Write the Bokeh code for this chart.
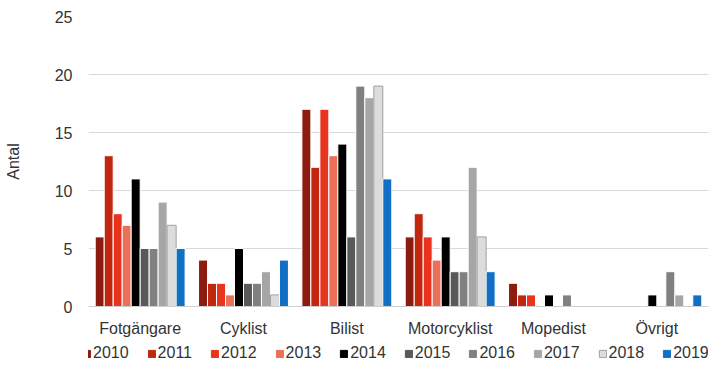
from bokeh.plotting import figure
from bokeh.layouts import column
from bokeh.models import ColumnDataSource, FactorRange, Legend, LegendItem
from bokeh.transform import dodge
from bokeh.embed import file_html
from bokeh.resources import INLINE

categories = ["Fotgängare", "Cyklist", "Bilist", "Motorcyklist", "Mopedist", "Övrigt"]
years = ["2010", "2011", "2012", "2013", "2014", "2015", "2016", "2017", "2018", "2019"]
v2010 = [6, 4, 17, 6, 2, 0]
v2011 = [13, 2, 12, 8, 1, 0]
v2012 = [8, 2, 17, 6, 1, 0]
v2013 = [7, 1, 13, 4, 0, 0]
v2014 = [11, 5, 14, 6, 1, 1]
v2015 = [5, 2, 6, 3, 0, 0]
v2016 = [5, 2, 19, 3, 1, 3]
v2017 = [9, 3, 18, 12, 0, 1]
v2018 = [7, 1, 19, 6, 0, 0]
v2019 = [5, 4, 11, 3, 0, 1]
series = [v2010, v2011, v2012, v2013, v2014, v2015, v2016, v2017, v2018, v2019]
colors = ["#8E1B0F", "#C1260F", "#E8331E", "#EE6F58", "#000000",
          "#595959", "#808080", "#A6A6A6", "#DCDCDC", "#1170C6"]
outlines = ["white"] * 8 + ["#A0A0A0", "white"]

FONT = "Liberation Sans"
TXT = "#333333"

data = {"cat": categories}
for y, s in zip(years, series):
    data["y" + y] = s
source = ColumnDataSource(data)

p = figure(x_range=FactorRange(*categories), y_range=(0, 25),
           width=710, height=340, output_backend="svg", toolbar_location=None,
           min_border_left=88, min_border_right=2, min_border_top=16, min_border_bottom=34)

# legend-only figure (the helper bar lies outside its visible range)
lg = figure(width=710, height=40, output_backend="svg", toolbar_location=None,
            x_range=(0, 1), y_range=(0, 1),
            x_axis_location=None, y_axis_location=None,
            min_border_left=0, min_border_right=0, min_border_top=0, min_border_bottom=0)
lg.outline_line_color = None
lg.grid.grid_line_color = None
helper = ColumnDataSource(dict(x=[-10], top=[-10]))

bw = 0.087
items = []
for i, (y, c, oc) in enumerate(zip(years, colors, outlines)):
    off = (i - 4.5) * bw
    p.vbar(x=dodge("cat", off, range=p.x_range), top="y" + y, width=bw,
           source=source, fill_color=c, line_color=oc, line_width=1)
    lr = lg.vbar(x="x", top="top", bottom=-11, width=1, source=helper, fill_color=c,
                 line_color=(oc if oc != "white" else c), line_width=1)
    items.append(LegendItem(label=y, renderers=[lr]))

legend = Legend(items=items, orientation="horizontal", location=(-6, 18),
                label_text_font=FONT, label_text_font_size="16px",
                label_text_color=TXT, glyph_width=9, glyph_height=9,
                label_standoff=2, spacing=18, padding=0, margin=0,
                label_height=16, border_line_color=None, background_fill_alpha=0)
lg.add_layout(legend, "center")

p.outline_line_color = None
p.xgrid.grid_line_color = None
p.ygrid.grid_line_color = "#D9D9D9"
p.ygrid.grid_line_width = 1

p.yaxis.ticker = [0, 5, 10, 15, 20, 25]
p.yaxis.axis_line_color = None
p.yaxis.major_tick_line_color = None
p.yaxis.minor_tick_line_color = None
p.yaxis.major_label_text_font = FONT
p.yaxis.major_label_text_font_size = "16px"
p.yaxis.major_label_text_color = TXT
p.yaxis.major_label_standoff = 10
p.yaxis.axis_label = "Antal"
p.yaxis.axis_label_text_font = FONT
p.yaxis.axis_label_text_font_style = "normal"
p.yaxis.axis_label_text_font_size = "16px"
p.yaxis.axis_label_text_color = TXT
p.yaxis.axis_label_standoff = 30

p.xaxis.axis_line_color = "#D0D0D0"
p.xaxis.major_tick_line_color = None
p.xaxis.minor_tick_line_color = None
p.xaxis.major_label_text_font = FONT
p.xaxis.major_label_text_font_size = "16px"
p.xaxis.major_label_text_color = TXT
p.xaxis.major_label_standoff = 7
p.x_range.range_padding = 0

layout = column(p, lg, spacing=0)
open("out.html", "w").write(file_html(layout, INLINE))
